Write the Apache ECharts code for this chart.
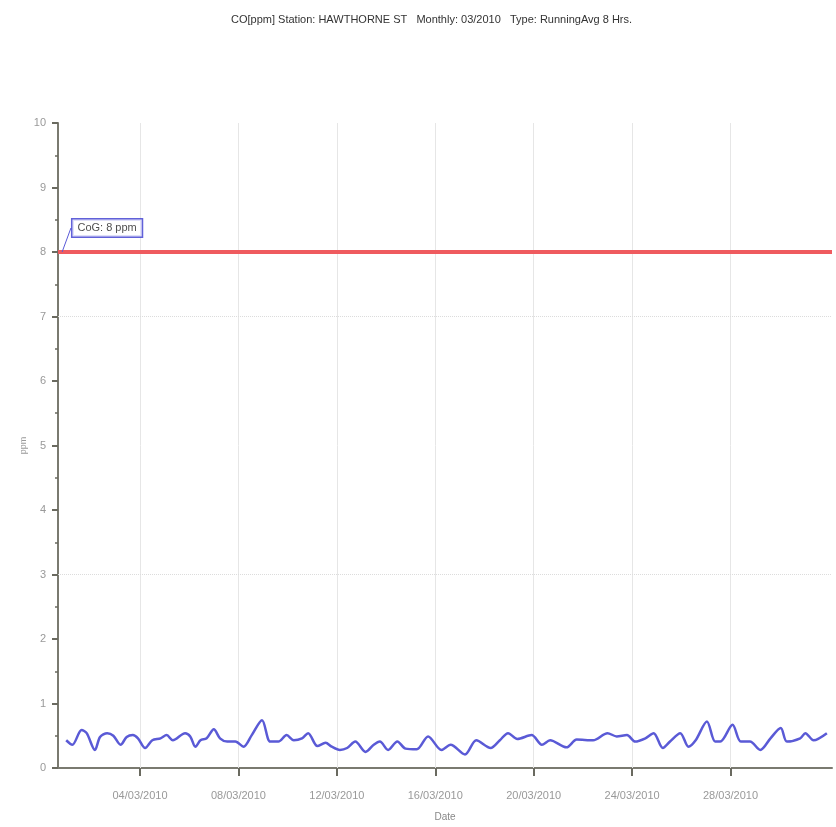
<!DOCTYPE html>
<html>
<head>
<meta charset="utf-8">
<script src="https://cdn.jsdelivr.net/npm/echarts@6/dist/echarts.min.js"></script>
<style>
  html,body{margin:0;padding:0;background:#fff;}
  #chart{width:836px;height:827px;}
</style>
</head>
<body>
<div id="chart"></div>
<script>
// hours since 01/03/2010 00:00 and running 8h avg CO (ppm)
const hours = [0, 6, 15, 20, 28, 33, 40, 46, 53, 59, 65, 70, 77, 84, 92, 98, 104, 116, 121, 126,
  131, 137, 144, 150, 157, 165, 173, 181, 191, 199, 207, 215, 222, 230, 236, 245, 253, 259, 267, 274,
  282, 292, 300, 306, 314, 323, 331, 342, 353, 366, 375, 389, 400, 414, 423, 431, 440, 454, 464, 472,
  488, 498, 514, 528, 537, 547, 555, 565, 573, 582, 589, 599, 607, 614, 625, 633, 638, 650, 658, 667,
  677, 687, 697, 703, 716, 721, 729, 742];
const ppm = [0.43, 0.36, 0.59, 0.54, 0.28, 0.48, 0.54, 0.50, 0.36, 0.48, 0.51, 0.46, 0.31, 0.43, 0.46, 0.51, 0.43, 0.54, 0.49, 0.33,
  0.43, 0.46, 0.60, 0.46, 0.41, 0.41, 0.33, 0.51, 0.74, 0.41, 0.41, 0.51, 0.43, 0.46, 0.54, 0.34, 0.39, 0.33, 0.28, 0.31,
  0.41, 0.25, 0.36, 0.41, 0.28, 0.41, 0.30, 0.29, 0.49, 0.28, 0.36, 0.21, 0.43, 0.31, 0.43, 0.54, 0.45, 0.51, 0.36, 0.43,
  0.32, 0.44, 0.43, 0.54, 0.49, 0.51, 0.41, 0.46, 0.54, 0.31, 0.41, 0.54, 0.33, 0.43, 0.72, 0.41, 0.41, 0.67, 0.41, 0.41,
  0.28, 0.46, 0.62, 0.41, 0.46, 0.54, 0.43, 0.54];
const tickHours = [72, 168, 264, 360, 456, 552, 648];
const tickLabels = ['04/03/2010', '08/03/2010', '12/03/2010', '16/03/2010', '20/03/2010', '24/03/2010', '28/03/2010'];
const limitValue = 8;
const limitLabel = 'CoG: 8 ppm';
const dottedLevels = [3, 7];

const chart = echarts.init(document.getElementById('chart'));
const font = "'Liberation Sans Narrow', 'Liberation Sans', Arial, sans-serif";

chart.setOption({
  backgroundColor: '#fff',
  animation: false,
  title: {
    text: 'CO[ppm] Station: HAWTHORNE ST   Monthly: 03/2010   Type: RunningAvg 8 Hrs.',
    left: 226, top: 9,
    textStyle: { fontFamily: font, fontSize: 11, fontWeight: 'normal', color: '#333' }
  },
  grid: { left: 58, right: 4, top: 123, bottom: 59 },
  xAxis: {
    type: 'value', min: -8, max: 747,
    name: 'Date', nameLocation: 'middle', nameGap: 44, nameMoveOverlap: false,
    nameTextStyle: { fontFamily: font, fontSize: 10, color: '#888' },
    axisLine: { show: true, onZero: false, lineStyle: { color: '#7a7a70', width: 2 } },
    axisTick: { show: true, customValues: tickHours, length: 8, lineStyle: { color: '#6a6a60', width: 2 } },
    axisLabel: {
      customValues: tickHours, margin: 22, fontFamily: font, fontSize: 11, color: '#999',
      formatter: v => tickLabels[tickHours.indexOf(v)] || ''
    },
    splitLine: { show: false }
  },
  yAxis: {
    type: 'value', min: 0, max: 10, interval: 1,
    name: 'ppm', nameLocation: 'middle', nameGap: 30, nameMoveOverlap: false,
    nameTextStyle: { fontFamily: font, fontSize: 9, color: '#999' },
    axisLine: { show: true, onZero: false, lineStyle: { color: '#7a7a70', width: 2 } },
    axisTick: { show: true, length: 6, lineStyle: { color: '#6a6a60', width: 2 } },
    minorTick: { show: true, splitNumber: 2, length: 3, lineStyle: { color: '#6a6a60', width: 1.5 } },
    axisLabel: { margin: 12, fontFamily: font, fontSize: 11, color: '#999' },
    splitLine: { show: false }
  },
  series: [
    {
      type: 'line',
      data: hours.map((h, i) => [h, ppm[i]]),
      symbol: 'none', smooth: 0.3,
      lineStyle: { color: '#5a5ad6', width: 2.5 },
      z: 5,
      markLine: {
        silent: true, symbol: 'none', animation: false,
        label: { show: false },
        data: [
          ...tickHours.map(h => ({ xAxis: h, lineStyle: { color: '#e6e6e6', width: 1, type: 'solid' } })),
          ...dottedLevels.map(v => ({ yAxis: v, lineStyle: { color: '#dcdcdc', width: 1, type: 'dotted' } })),
          { yAxis: limitValue, lineStyle: { color: '#ef5b5f', width: 4, type: 'solid' } }
        ]
      }
    },
    {
      type: 'scatter',
      data: [[-4, limitValue]],
      symbolSize: 0,
      z: 10,
      label: {
        show: true, position: 'inside', formatter: limitLabel,
        fontFamily: font, fontSize: 11, color: '#222',
        backgroundColor: '#fff', borderColor: '#3a3ad0', borderWidth: 1.5,
        padding: [3, 5, 3, 5]
      },
      labelLayout: { dx: 45, dy: -24 },
      labelLine: { show: true, lineStyle: { color: '#5a5ad8', width: 1 } }
    }
  ]
});
</script>
</body>
</html>
